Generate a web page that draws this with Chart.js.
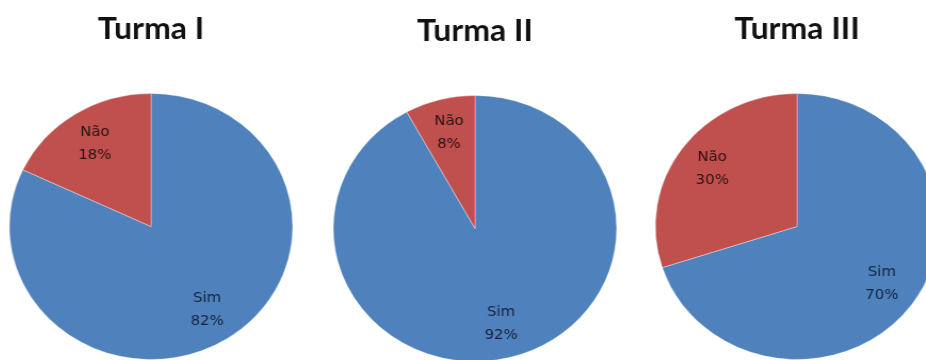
<!DOCTYPE html>
<html>
<head>
<meta charset="utf-8">
<script src="https://cdn.jsdelivr.net/npm/chart.js@4"></script>
<style>
  html, body { margin: 0; padding: 0; background: #fff; }
  body { width: 926px; height: 360px; overflow: hidden; position: relative; }
  .pie { position: absolute; width: 300px; height: 360px; transform: scaleX(1.065); transform-origin: 150px 0; }
</style>
</head>
<body>
<div class="pie" id="w1" style="left:1px;top:0px"><canvas id="c1" width="300" height="360"></canvas></div>
<div class="pie" id="w2" style="left:325px;top:2px"><canvas id="c2" width="300" height="360"></canvas></div>
<div class="pie" id="w3" style="left:647px;top:0px"><canvas id="c3" width="300" height="360"></canvas></div>
<script>
const answers = ['Sim', 'Não'];
const titles = ['Turma I', 'Turma II', 'Turma III'];
const turma1 = [82, 18];
const turma2 = [92, 8];
const turma3 = [70, 30];

const sliceColors = ['#4f81bd', '#c0504d'];

// draws "Sim / 82%" inside each slice
const sliceLabels = {
  id: 'sliceLabels',
  afterDatasetsDraw(chart) {
    const ctx = chart.ctx;
    const data = chart.data.datasets[0].data;
    const total = data.reduce((a, b) => a + b, 0);
    chart.getDatasetMeta(0).data.forEach((arc, i) => {
      const p = arc.getProps(['x', 'y', 'startAngle', 'endAngle', 'outerRadius']);
      const mid = (p.startAngle + p.endAngle) / 2;
      const r = p.outerRadius * 0.74;
      const x = p.x + Math.cos(mid) * r;
      const y = p.y + Math.sin(mid) * r;
      ctx.save();
      ctx.font = '14px "DejaVu Sans", sans-serif';
      ctx.fillStyle = i === 0 ? '#17243d' : '#2a1414';
      ctx.textAlign = 'center';
      ctx.textBaseline = 'middle';
      ctx.fillText(chart.data.labels[i], x, y - 11.5);
      ctx.fillText(Math.round(data[i] / total * 100) + '%', x, y + 11.5);
      ctx.restore();
    });
  }
};

function makePie(id, title, values) {
  return new Chart(document.getElementById(id), {
    type: 'pie',
    data: {
      labels: answers,
      datasets: [{
        data: values,
        backgroundColor: sliceColors,
        borderColor: 'rgba(255,255,255,0.35)',
        borderWidth: 1
      }]
    },
    options: {
      responsive: false,
      animation: false,
      layout: { padding: 0 },
      plugins: {
        legend: { display: false },
        tooltip: { enabled: false },
        title: {
          display: true,
          text: title,
          color: '#111',
          font: { family: 'Lato', size: 30, weight: 'bold', lineHeight: 1.2 },
          padding: { top: 11, bottom: 46 }
        }
      }
    },
    plugins: [sliceLabels]
  });
}

makePie('c1', titles[0], turma1);
makePie('c2', titles[1], turma2);
makePie('c3', titles[2], turma3);
</script>
</body>
</html>
